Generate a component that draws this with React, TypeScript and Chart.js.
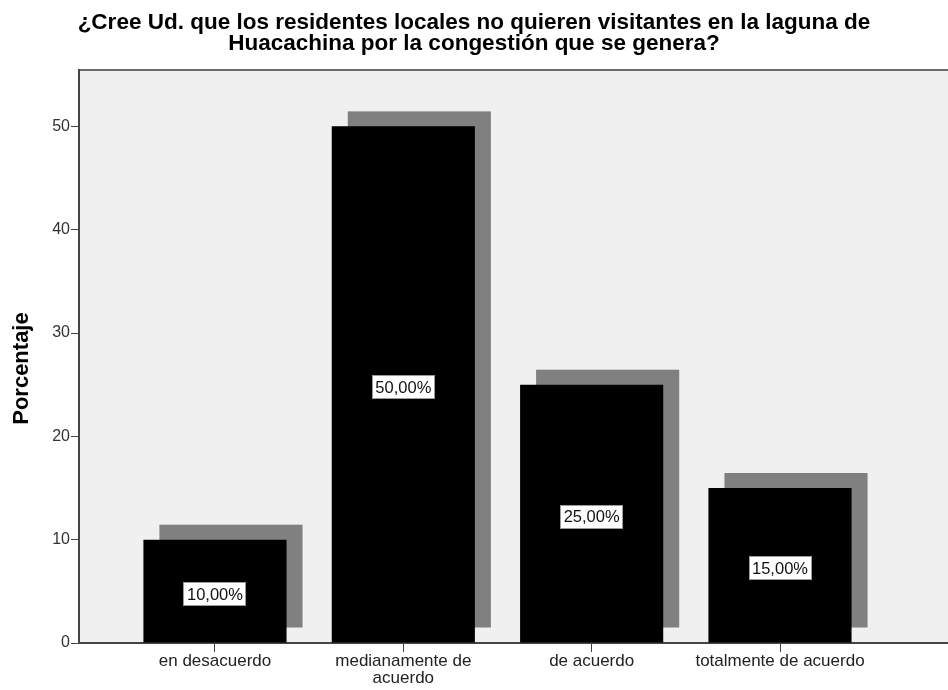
import React, { useEffect, useRef } from 'react';
import { Chart, registerables } from 'chart.js';

Chart.register(...registerables);

const TITLE_LINES = [
  '¿Cree Ud. que los residentes locales no quieren visitantes en la laguna de',
  'Huacachina por la congestión que se genera?',
];
const CATEGORIES: string[][] = [
  ['en desacuerdo'],
  ['medianamente de', 'acuerdo'],
  ['de acuerdo'],
  ['totalmente de acuerdo'],
];
const PERCENTAGES = [10, 50, 25, 15];
const Y_TICKS = [0, 10, 20, 30, 40, 50];
const Y_TITLE = 'Porcentaje';

const FONT = '"Liberation Sans", Arial, Helvetica, sans-serif';

const backgroundPlugin = {
  id: 'plotBackground',
  beforeDraw(chart: any) {
    const { ctx, chartArea } = chart;
    const { left, top, right, bottom } = chartArea;
    ctx.save();
    ctx.fillStyle = '#f0f0f0';
    ctx.fillRect(left, top, right - left, bottom - top);
    ctx.strokeStyle = '#6a6a6a';
    ctx.lineWidth = 2;
    ctx.beginPath();
    ctx.moveTo(left, top);
    ctx.lineTo(right, top);
    ctx.stroke();
    ctx.restore();
  },
};

const shadowPlugin = {
  id: 'barShadow',
  beforeDatasetsDraw(chart: any) {
    const { ctx } = chart;
    const meta = chart.getDatasetMeta(0);
    ctx.save();
    ctx.fillStyle = '#808080';
    meta.data.forEach((el: any) => {
      const { x, y, base, width } = el.getProps(['x', 'y', 'base', 'width'], true);
      ctx.fillRect(x - width / 2 + 16, y - 15, width, base - y);
    });
    ctx.restore();
  },
};

const labelPlugin = {
  id: 'valueLabels',
  afterDatasetsDraw(chart: any) {
    const { ctx } = chart;
    const meta = chart.getDatasetMeta(0);
    ctx.save();
    ctx.font = `16.5px ${FONT}`;
    ctx.textAlign = 'center';
    ctx.textBaseline = 'middle';
    meta.data.forEach((el: any, i: number) => {
      const { x, y, base } = el.getProps(['x', 'y', 'base'], true);
      const txt = PERCENTAGES[i].toFixed(2).replace('.', ',') + '%';
      const w = Math.round(ctx.measureText(txt).width + 7);
      const h = 24;
      const cy = (y + base) / 2 + 3;
      const bx = Math.round(x - w / 2);
      const by = Math.round(cy - h / 2);
      ctx.fillStyle = '#ffffff';
      ctx.fillRect(bx, by, w, h);
      ctx.strokeStyle = '#9a9a9a';
      ctx.lineWidth = 1;
      ctx.strokeRect(bx + 0.5, by + 0.5, w - 1, h - 1);
      ctx.fillStyle = '#111111';
      ctx.fillText(txt, x, cy + 1);
    });
    ctx.restore();
  },
};

const axisTitlePlugin = {
  id: 'yAxisTitle',
  afterDraw(chart: any) {
    const { ctx, chartArea } = chart;
    ctx.save();
    ctx.translate(22, (chartArea.top + chartArea.bottom) / 2 + 12);
    ctx.rotate(-Math.PI / 2);
    ctx.font = `bold 22px ${FONT}`;
    ctx.fillStyle = '#000000';
    ctx.textAlign = 'center';
    ctx.textBaseline = 'middle';
    ctx.fillText(Y_TITLE, 0, 0);
    ctx.restore();
  },
};

export default function App() {
  const canvasRef = useRef<HTMLCanvasElement | null>(null);

  useEffect(() => {
    document.body.style.margin = '0';
    const canvas = canvasRef.current;
    if (!canvas) return;
    const chart = new Chart(canvas, {
      type: 'bar',
      data: {
        datasets: [
          {
            data: PERCENTAGES.map((v, i) => ({ x: i, y: v })),
            backgroundColor: '#000000',
            borderWidth: 0,
            barPercentage: 0.76,
            categoryPercentage: 1,
          },
        ],
      },
      options: {
        animation: false,
        responsive: false,
        layout: { padding: 0 },
        plugins: {
          legend: { display: false },
          tooltip: { enabled: false },
          title: {
            display: true,
            text: TITLE_LINES,
            color: '#000000',
            font: { family: FONT, size: 22.5, weight: 'bold', lineHeight: 0.93 },
            padding: { top: 12, bottom: 16.2 },
          },
        },
        scales: {
          x: {
            type: 'linear',
            offset: false,
            min: -0.722,
            max: 3.892,
            afterFit(scale: any) {
              scale.height = 47;
            },
            afterBuildTicks(scale: any) {
              scale.ticks = CATEGORIES.map((_, i) => ({ value: i }));
            },
            ticks: {
              autoSkip: false,
              maxRotation: 0,
              padding: 1,
              color: '#222222',
              font: { family: FONT, size: 17, lineHeight: 1.0 },
              callback: (value: any) => CATEGORIES[Math.round(Number(value))] ?? '',
            },
            grid: {
              offset: false,
              drawOnChartArea: false,
              drawTicks: true,
              tickLength: 9,
              color: '#444444',
            },
            border: { color: '#444444', width: 2 },
          },
          y: {
            type: 'linear',
            min: 0,
            max: 55.45,
            afterFit(scale: any) {
              scale.width = 79;
            },
            afterBuildTicks(scale: any) {
              scale.ticks = Y_TICKS.map((v) => ({ value: v }));
            },
            ticks: {
              padding: 1,
              color: '#333333',
              font: { family: FONT, size: 16 },
            },
            grid: {
              drawOnChartArea: false,
              drawTicks: true,
              tickLength: 8,
              color: '#444444',
            },
            border: { color: '#444444', width: 2 },
            title: { display: false },
          },
        },
      },
      plugins: [backgroundPlugin, shadowPlugin, labelPlugin, axisTitlePlugin],
    } as any);
    return () => chart.destroy();
  }, []);

  return (
    <div style={{ width: 948, height: 690 }}>
      <canvas ref={canvasRef} width={948} height={690} style={{ display: 'block' }} />
    </div>
  );
}
